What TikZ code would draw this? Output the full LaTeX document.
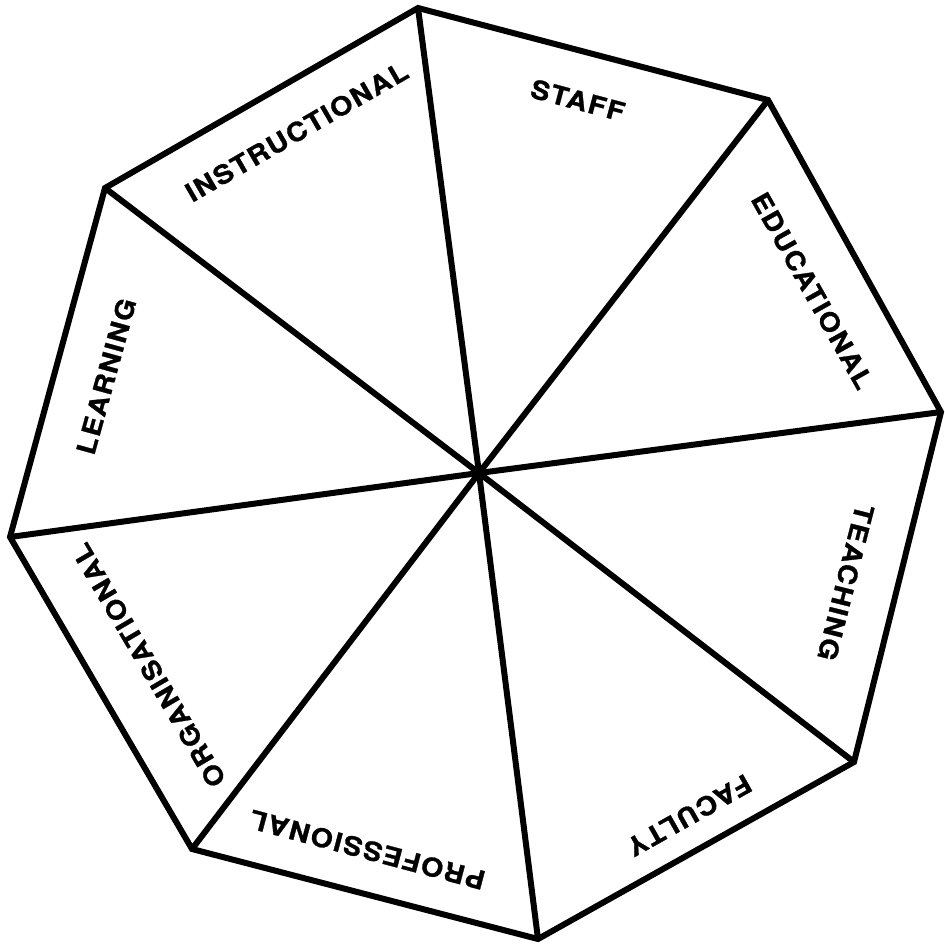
\documentclass[tikz,border=0pt]{standalone}
\usepackage{fontspec}
\setmainfont{TeX Gyre Heros}
\newfontfamily\lblfont[FakeStretch=1.1,LetterSpace=6,FakeBold=1]{TeX Gyre Heros}
\begin{document}
\begin{tikzpicture}[x=1pt,y=-1pt,
  edge/.style={line width=6pt,line join=miter},
  lbl/.style={inner sep=0pt,font=\fontsize{26}{26}\lblfont\bfseries}]
\useasboundingbox (0,0) rectangle (945,943);
\coordinate (c) at (479,473);
\coordinate (v1) at (418,8);
\coordinate (v2) at (768,100);
\coordinate (v3) at (941,412);
\coordinate (v4) at (854,762);
\coordinate (v5) at (538,939);
\coordinate (v6) at (192,849);
\coordinate (v7) at (10,537);
\coordinate (v8) at (105,188);
\draw[edge] (v1) -- (v2) -- (v3) -- (v4) -- (v5) -- (v6) -- (v7) -- (v8) -- cycle;
\foreach \v in {v1,v2,v3,v4,v5,v6,v7,v8} \draw[edge] (c) -- (\v);
\node[lbl,rotate=-14.9] (staff) at (577,100) {STAFF\kern-0.06em};
\node[lbl,rotate=-60.7] (edu) at (812,290) {EDUCATIONAL\kern-0.06em};
\node[lbl,rotate=-104.2] (teach) at (846,582) {TEACHING\kern-0.06em};
\node[lbl,rotate=-150.6] (fac) at (690,815) {FACULTY\kern-0.06em};
\node[lbl,rotate=165.1] (prof) at (368,850) {PROFESSIONAL\kern-0.06em};
\node[lbl,rotate=120.4] (org) at (149,666) {ORGANISATIONAL\kern-0.06em};
\node[lbl,rotate=74.6] (learn) at (106,377) {LEARNING\kern-0.06em};
\node[lbl,rotate=30.0] (instr) at (296,132) {INSTRUCTIONAL\kern-0.06em};
\end{tikzpicture}
\end{document}
